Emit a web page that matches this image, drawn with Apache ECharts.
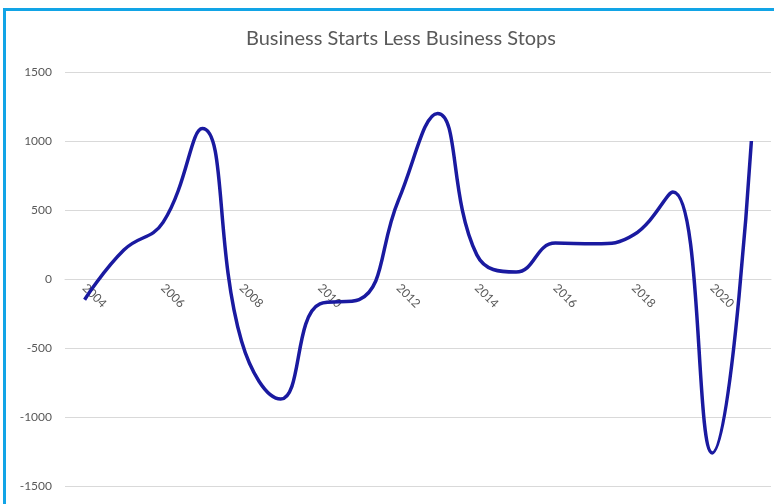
<!DOCTYPE html>
<html><head><meta charset="utf-8">
<script src="https://cdn.jsdelivr.net/npm/echarts@6/dist/echarts.min.js"></script>
<style>
html,body{margin:0;padding:0;background:#fff;}
#frame{position:absolute;left:3px;top:8px;width:780px;height:510px;border-left:3px solid #12a4e6;border-top:3px solid #12a4e6;box-sizing:border-box;}
#chart{position:absolute;left:0;top:0;width:774px;height:504px;}
</style></head>
<body>
<div id="frame"></div>
<div id="chart"></div>
<script>
const titleText = 'Business Starts Less Business Stops';
const years = ['2004','2005','2006','2007','2008','2009','2010','2011','2012','2013','2014','2015','2016','2017','2018','2019','2020','2021'];
const netStarts = [-150, 210, 410, 1090, -450, -870, -180, -150, 570, 1200, 175, 50, 260, 255, 320, 630, -1260, 1000];
const yTicks = {min: -1500, max: 1500, step: 500};

const gridTop = 72, gridBottom = 18, chartH = 504;
const plotH = chartH - gridTop - gridBottom;
// move category axis up to the zero line
const zeroOffset = -plotH * (0 - yTicks.min) / (yTicks.max - yTicks.min);

const chart = echarts.init(document.getElementById('chart'));
chart.setOption({
  animation: false,
  backgroundColor: 'transparent',
  title: {
    text: titleText, left: 241, top: 24,
    textStyle: {fontFamily: 'Lato', fontSize: 20, fontWeight: 'normal', color: '#595959'}
  },
  grid: {left: 65, right: 3, top: gridTop, bottom: gridBottom, containLabel: false},
  xAxis: {
    type: 'category', data: years, boundaryGap: true, position: 'bottom',
    offset: zeroOffset,
    axisLine: {show: true, onZero: false, lineStyle: {color: '#d9d9d9', width: 1}},
    axisTick: {show: false},
    axisLabel: {interval: 1, rotate: -45, color: '#595959', fontFamily: 'Lato', fontSize: 12, margin: 7},
    splitLine: {show: false}
  },
  yAxis: {
    type: 'value', min: yTicks.min, max: yTicks.max, interval: yTicks.step,
    axisLine: {show: false}, axisTick: {show: false},
    axisLabel: {color: '#595959', fontFamily: 'Lato', fontSize: 12, margin: 13, formatter: v => String(v)},
    splitLine: {lineStyle: {color: '#d9d9d9', width: 1}}
  },
  series: [{
    type: 'line', data: netStarts, smooth: 0.45, showSymbol: false,
    lineStyle: {color: '#1a1aa0', width: 3.5},
    itemStyle: {color: '#1a1aa0'}
  }]
});
</script>
</body></html>
